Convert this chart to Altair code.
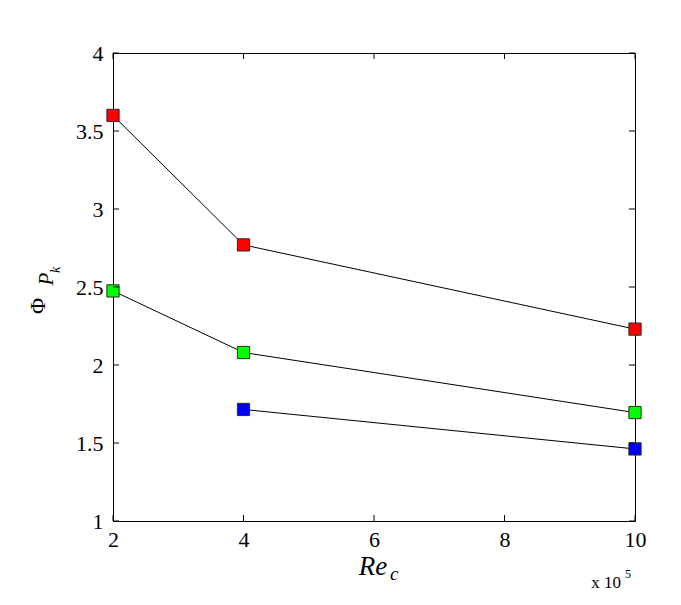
import altair as alt
import pandas as pd

# Data
series = ["red", "green", "blue"]
re_red = [2, 4, 10]
phi_red = [3.60, 2.77, 2.23]
re_green = [2, 4, 10]
phi_green = [2.475, 2.08, 1.695]
re_blue = [4, 10]
phi_blue = [1.715, 1.462]
colors = ["#ff0000", "#00ff00", "#0000ff"]

x_ticks = [2, 4, 6, 8, 10]
y_ticks = [1, 1.5, 2, 2.5, 3, 3.5, 4]

rows = []
for name, xs, ys in [("red", re_red, phi_red), ("green", re_green, phi_green), ("blue", re_blue, phi_blue)]:
    for xv, yv in zip(xs, ys):
        rows.append({"series": name, "Re": xv, "Phi": yv})
df = pd.DataFrame(rows)

W, H = 522, 468
FONT = "Liberation Serif"

xscale = alt.Scale(domain=[2, 10], nice=False, zero=False)
yscale = alt.Scale(domain=[1, 4], nice=False, zero=False)

xaxis = alt.Axis(values=x_ticks, title=None, grid=False, domain=False, tickSize=0,
                 labelPadding=8, labelFontSize=22, labelFont=FONT, labelColor="black",
                 labelFlush=False, format="~g")
yaxis = alt.Axis(values=y_ticks, title=None, grid=False, domain=False, tickSize=0,
                 labelPadding=10, labelFontSize=22, labelFont=FONT, labelColor="black",
                 format="~g")

lines = alt.Chart(df).mark_line(color="black", strokeWidth=1).encode(
    x=alt.X("Re:Q", scale=xscale, axis=xaxis),
    y=alt.Y("Phi:Q", scale=yscale, axis=yaxis),
    detail="series:N",
)

points = alt.Chart(df).mark_point(shape="square", filled=True, size=150, opacity=1,
                                  stroke="#2a2a2a", strokeWidth=1).encode(
    x=alt.X("Re:Q", scale=xscale),
    y=alt.Y("Phi:Q", scale=yscale),
    fill=alt.Fill("series:N", scale=alt.Scale(domain=series, range=colors), legend=None),
)

xt = pd.DataFrame({"t": x_ticks})
yt = pd.DataFrame({"t": y_ticks})
tick_bottom = alt.Chart(xt).mark_rule(color="black", strokeWidth=1).encode(
    x=alt.X("t:Q", scale=xscale), y=alt.value(H), y2=alt.value(H - 6))
tick_top = alt.Chart(xt).mark_rule(color="black", strokeWidth=1).encode(
    x=alt.X("t:Q", scale=xscale), y=alt.value(0), y2=alt.value(6))
tick_left = alt.Chart(yt).mark_rule(color="black", strokeWidth=1).encode(
    y=alt.Y("t:Q", scale=yscale), x=alt.value(0), x2=alt.value(6))
tick_right = alt.Chart(yt).mark_rule(color="black", strokeWidth=1).encode(
    y=alt.Y("t:Q", scale=yscale), x=alt.value(W), x2=alt.value(W - 6))

one = pd.DataFrame({"a": [0]})

def label(text, x, y, size, italic=False, angle=0, baseline="alphabetic", align="center"):
    return alt.Chart(one).mark_text(
        text=text, font=FONT, fontSize=size, fontStyle="italic" if italic else "normal",
        angle=angle, baseline=baseline, align=align, color="black"
    ).encode(x=alt.value(x), y=alt.value(y))

ylab_phi = label("Φ", -68, 253, 22, angle=270)
ylab_p = label("P", -60, 226, 21, italic=True, angle=270)
ylab_k = label("k", -53, 217, 14, italic=True, angle=270)
xlab_re = label("Re", 260, 522, 27, italic=True)
xlab_c = label("c", 277, 527, 19, italic=True, align="left")
exp_x = label("x 10", 493, 535, 17)
exp_5 = label("5", 512, 525, 12, align="left")

chart = alt.layer(
    lines, points, tick_bottom, tick_top, tick_left, tick_right,
    ylab_phi, ylab_p, ylab_k, xlab_re, xlab_c, exp_x, exp_5,
).properties(
    width=W, height=H,
    autosize=alt.AutoSizeParams(type="none"),
    padding={"left": 105, "top": 45, "right": 30, "bottom": 76},
    background="white",
).configure_view(stroke="black", strokeWidth=1)

chart.save("out.html", embed_options={"renderer": "svg", "actions": False})
